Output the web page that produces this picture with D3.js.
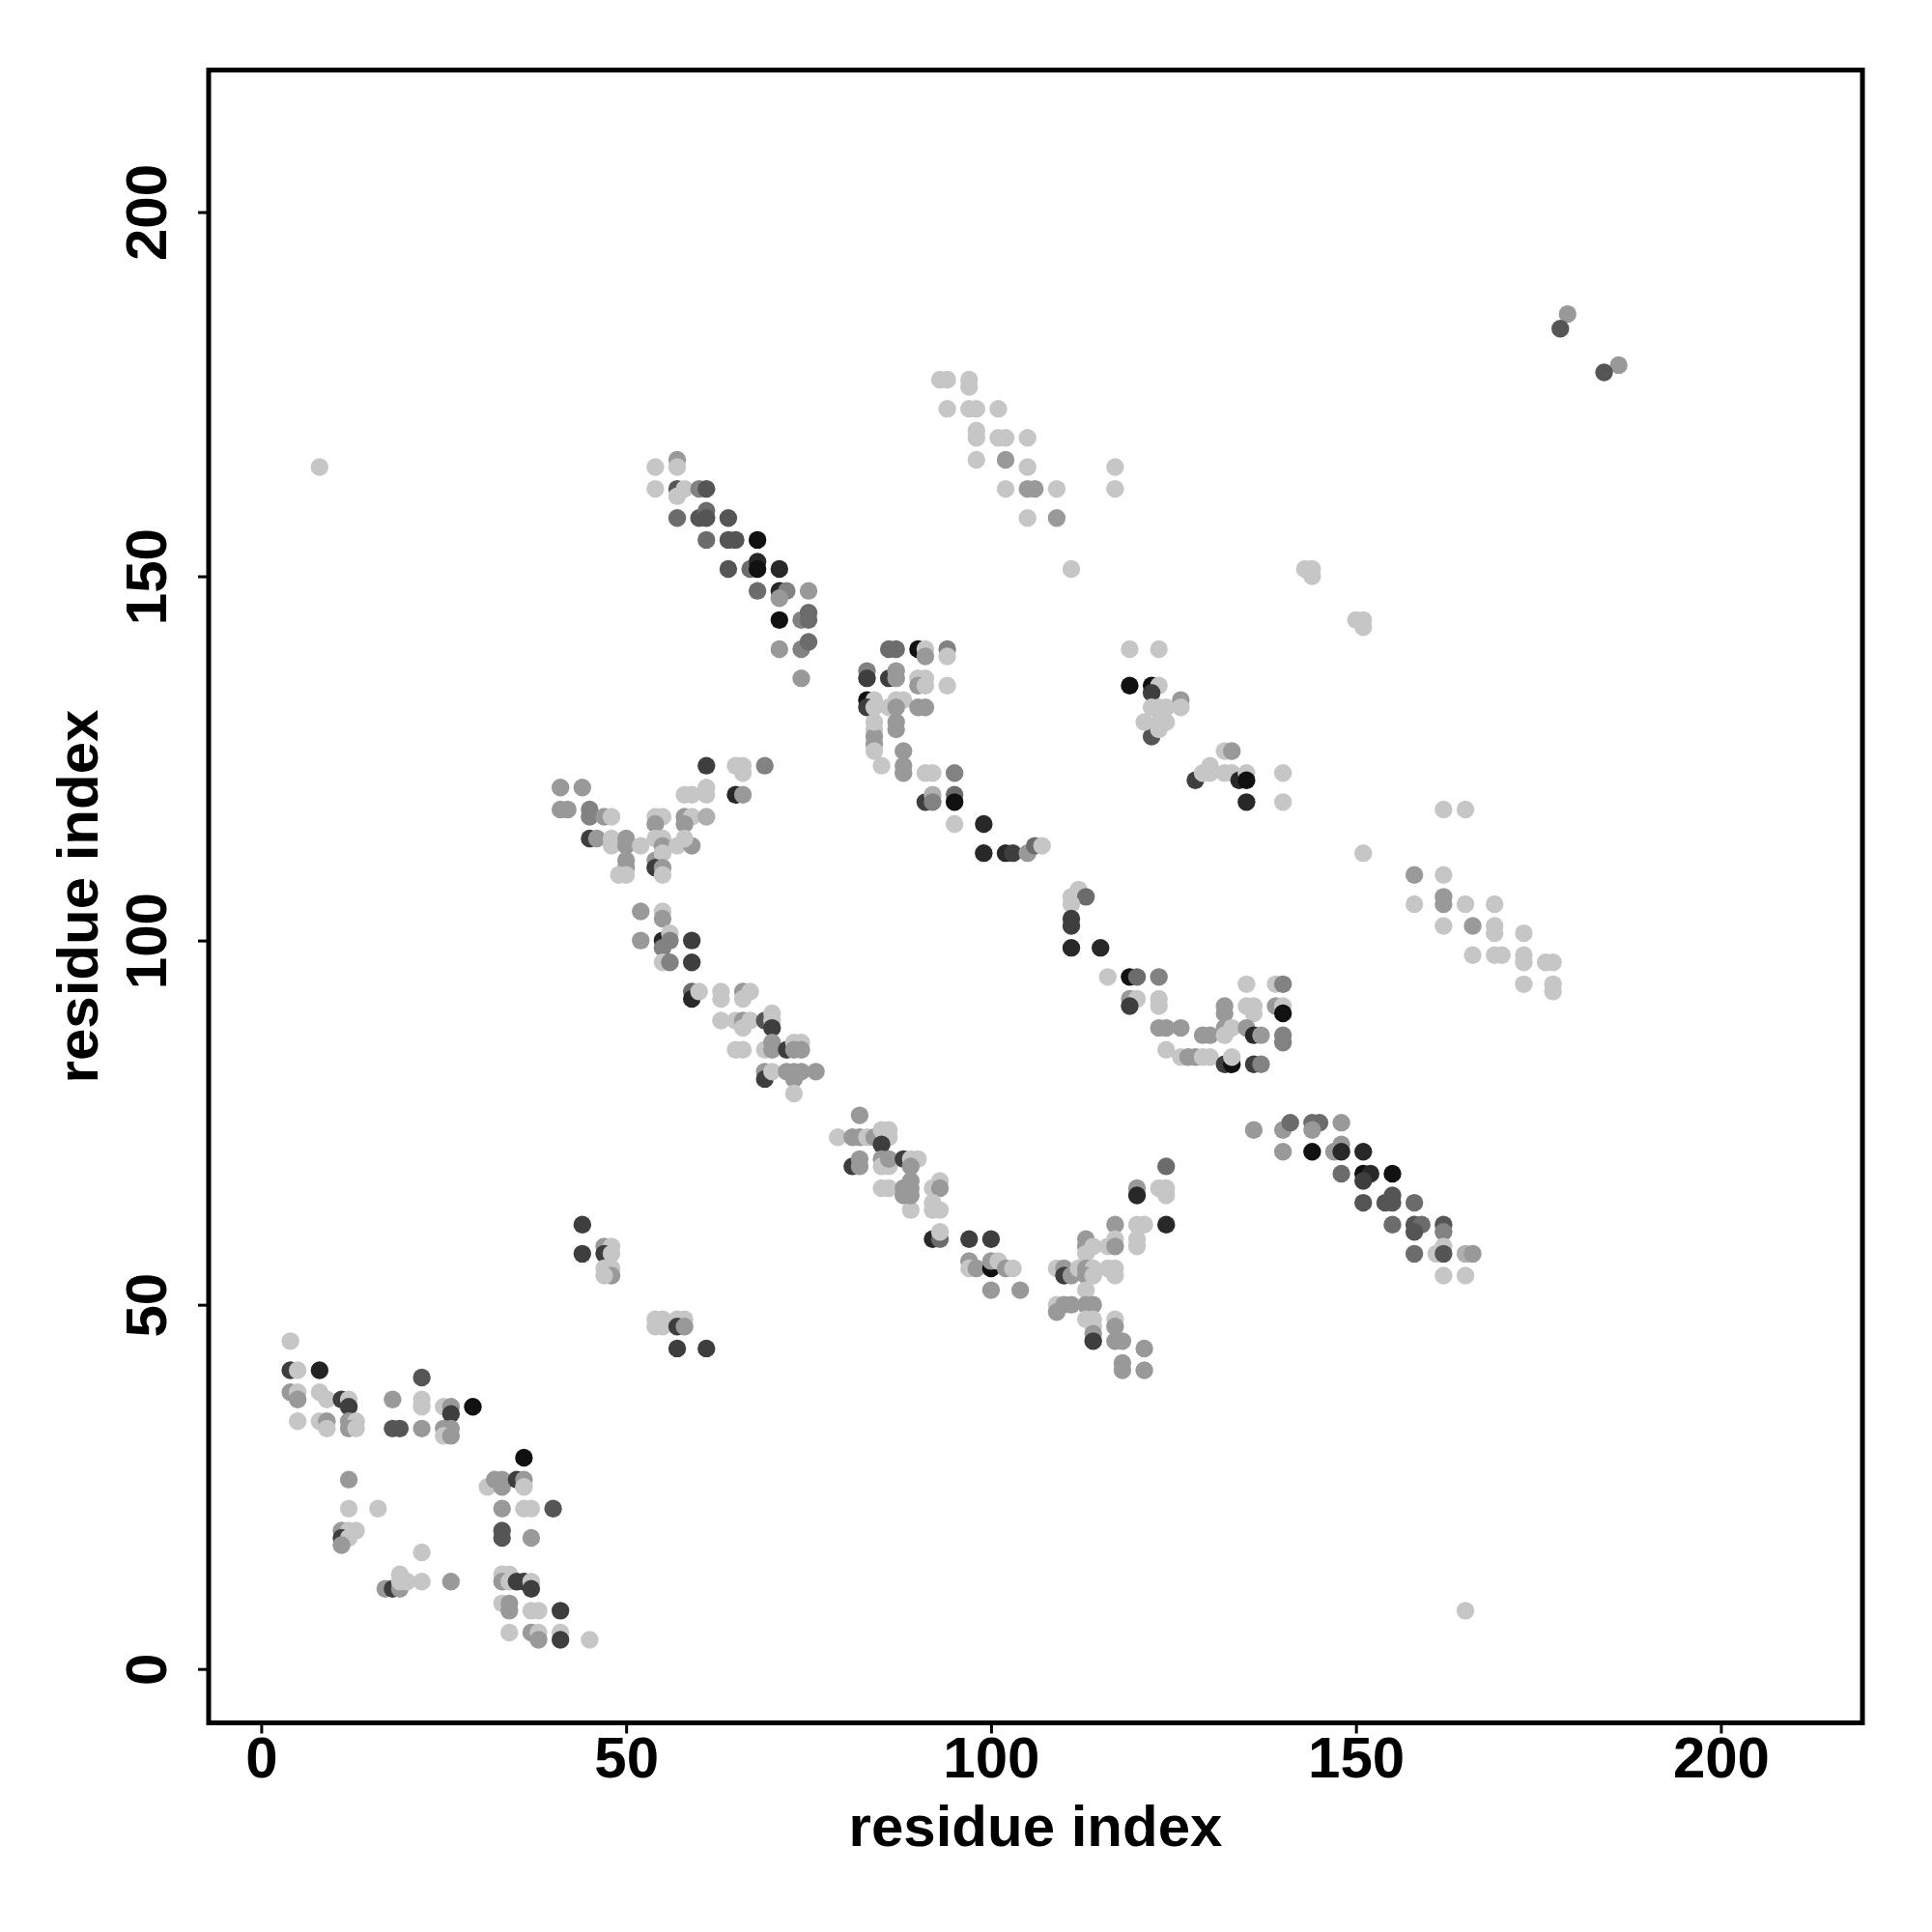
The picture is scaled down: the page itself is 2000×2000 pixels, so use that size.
<!DOCTYPE html>
<html>
<head>
<meta charset="utf-8">
<script src="https://cdn.jsdelivr.net/npm/d3@7"></script>
<style>
  html, body { margin: 0; padding: 0; background: #fff; }
  svg { display: block; }
  text { font-family: "Liberation Sans", Arial, Helvetica, sans-serif; font-weight: bold; }
</style>
</head>
<body>
<svg id="chart" width="2000" height="2000"></svg>
<script>
// ---- data: [residue i, residue j, confidence level 1 (light) .. 5 (black)] ----
const blockSW = [
  [44,61,4],[44,57,4],
  [47,58,2],[48,58,1],[47,57,4],[48,57,1],[47,55,1],[48,55,1],[48,54,2],[47,54,1],
  [54,48,1],[55,48,1],[54,47,1],[55,47,1],[57,48,1],[58,48,1],[57,47,4],[58,47,2],[57,44,4],[61,44,4],
  [4,45,1],
  [4,41,4],[5,41,1],[8,41,4.6],
  [4,38,2],[5,38,1],[5,37,2],[8,38,1],[9,37,1],[11,37,4],[12,37,1],[12,36,4],
  [5,34,1],[8,34,1],[9,34,2],[9,33,1],[12,34,2],[13,34,1],[12,33,2],[13,33,1],
  [18,37,2],[22,40,3.5],[22,37,1],[22,36,1],[25,36,1],[26,36,2],[26,35,4],[26,33,2],[25,33,2],[25,32,1],[26,32,2],
  [29,36,5],
  [18,33,3.5],[19,33,3.5],[22,33,2],
  [36,29,5],
  [31,25,1],[32,26,2],[33,25,2],[33,26,2],[35,26,4],[36,26,2],[36,25,1],
  [12,26,2],[12,22,1],[16,22,1],[33,22,2],[36,22,1],[37,22,1],[40,22,3.5],
  [11,19,2],[12,19,1],[13,19,1],[11,18,4],[12,18,1],[11,17,2],
  [33,19,3.5],[33,18,3.5],[37,18,2],
  [22,16,1],
  [17,11,2],[18,11,4],[19,11,2],[19,13,1],[19,12,1],[20,12,1],
  [22,12,1],[26,12,2],
  [33,13,1],[34,13,1],[33,12,2],[34,12,1],[35,12,4],[36,12,4],[37,12,1],[37,11,4],
  [33,9,1],[34,9,2],[34,8,2],[37,8,1],[38,8,1],[41,8,4],
  [34,5,1],[37,5,2],[38,5,1],[38,4,2],[41,5,1],[41,4,4],[45,4,1]
];
const blockS = [
  [89,63,1],[92,63,1],[93,63,1],
  [92,59,4.5],[93,59,3],[93,60,1],[97,59,4],[100,59,4],
  [97,56,2],[97,55,1],[98,55,2],[100,55,5],[100,56,2],[101,56,1],[102,55,2],[103,55,1],
  [100,52,2],[104,52,2],
  [117,61,2],[120,61,1],[121,61,1],[124,61,4.5],
  [113,59,2],[113,58,2],[114,58,1],[116,58,1],[117,59,1],[117,58,2],[120,59,1],[120,58,1],[113,57,1],
  [109,55,1],[110,55,2],[110,54,4],[111,54,2],[112,55,1],[113,55,2],[114,55,1],[116,55,1],[117,55,1],[117,54,1],[113,54,2],[114,54,1],
  [113,52,1],
  [109,50,1],[109,49,2],[110,50,2],[111,50,2],[113,50,2],[114,50,2],[113,48,1],[114,48,1],[114,47,1],[114,46,2],[114,45,4],
  [117,48,1],[117,47,2],[117,45,2],[118,45,2],
  [121,44,2],[118,42,2],[118,41,2],[121,41,2]
];
const blockSE = [
  [155,61,3],[158,61,3.5],[159,61,3],[158,60,3.5],[162,61,3.5],[162,60,2.5],
  [158,57,3],[161,57,1],[162,58,1],[162,57,3.5],[165,57,1.5],[166,57,2],
  [162,54,1],[165,54,1],
  [165,8,1]
];
const blockW = [
  [61,124,4],
  [41,121,2],[44,121,2],[41,118,2],[42,118,2],
  [45,118,2.5],[45,117,2.5],[47,117,2],[48,117,1],
  [45,114,4],[46,114,2],[48,114,1],[48,113,1],[50,114,2],[50,113,2],[50,111,2],[50,110,2],[49,109,1],[50,109,1],[52,113,1],
  [54,117,1],[55,117,1],[54,116,2],[55,114,1],[54,114,1],[55,113,2],[54,111,2],[55,112,1],[54,110,4],[55,110,2],[55,109,1],
  [58,120,1],[59,120,1],[61,121,1],[61,120,1],[58,117,2],[59,117,1],[61,117,1.5],[58,116,2],[57,113,1],[59,113,2],[58,114,1],
  [52,104,2],[55,104,1],[55,103,2],
  [52,100,2],[55,100,4.5],[56,101,1],[56,100,2.5],[59,100,4],[55,99,2.5],[55,97,1],[56,97,2.5],[59,97,4],
  [59,93,3],[59,92,4.5],[60,93,1],[63,93,1],[63,92,1],[63,89,1]
];
const blockC = [
  [65,124,1],[66,124,1],[66,123,1],[69,124,2.5],
  [65,120,4.5],[66,120,2],
  [84,129,1],[84,128,2],[84,127,2],[84,126,1],[85,124,1],[87,129,2],
  [88,126,2],[88,124,2],[88,123,2],
  [91,123,1],[92,123,1],[95,123,2.5],
  [91,119,4],[92,120,1.5],[92,119,2.5],[95,120,3],[95,119,5],
  [95,116,1],[99,116,4.5],
  [99,112,4.5],[102,112,4.5],[103,112,4],[105,112,2],[106,113,3],[107,113,1],
  [112,107,1],[111,106,1],[113,106,3],[111,105,1],[111,103,4],[111,102,4],
  [111,99,4.5],[115,99,4.5],
  [116,95,1],[119,95,5],[120,95,3],[123,95,2.5],
  [119,92,2],[120,92,1],[119,91,4],[123,92,1],[123,91,1],
  [123,88,2],[124,88,2],[126,88,2],[129,87,2],
  [124,85,1],[126,84,1],[127,84,2],[128,84,2],[129,84,1],
  [124,69,3],[120,66,2],[120,65,4.5],[123,66,1],[124,66,1],[124,65,1],
  [66,93,2],[67,93,1],[66,92,1],
  [65,89,1],[66,89,2],[67,89,1],[66,88,1],[69,89,3.5],[70,90,1],[70,89,1],[70,88,4],
  [65,85,1],[66,85,1],[69,85,1],[70,86,2],[70,85,2],[72,85,4],[73,86,1],[74,86,1],[73,85,2],[74,85,2],
  [69,82,2],[69,81,4],[70,82,1],[72,82,2],[73,82,2],[74,82,2],[76,82,2],[73,81,2],[73,79,1],
  [82,76,2],[79,73,1],[81,73,2],[82,73,2],[83,73,1],[84,73,2],[85,74,1],[86,74,1],[86,73,1],[85,72,4],
  [81,69,4],[82,70,2],[82,69,2],[85,70,2],[85,69,1],[86,69,1],[86,70,2],[88,70,4],[89,70,1],[90,70,1],[89,69,2],
  [85,66,1],[86,66,1],[88,66,2],[89,67,2],[89,66,2],[92,66,1],[93,67,1],[93,66,2],[88,65,2],[89,65,2],[92,64,1],
  [122,128,3.5],[123,129,1],[124,130,1],
  [128,122,4],[129,123,1]
];
const blockE = [
  [132,126,1],[133,126,2],[130,124,1],[130,123,1],[132,123,1],[133,123,1],[134,122,4.5],[135,123,1],[135,122,5],[135,119,4.5],[140,123,1],[140,119,1],
  [162,118,1],[165,118,1],
  [151,112,1],
  [158,109,2],[162,109,1],
  [158,105,1],[162,106,2],[162,105,2],[165,105,1],[169,105,1],
  [162,102,1],[166,102,2],[169,102,1],[169,101,1],[173,101,1],
  [166,98,1],[169,98,1],[170,98,1],[173,98,1],[173,97,1],[176,97,1],[177,97,1],
  [173,94,1],[177,94,1],[177,93,1],
  [135,94,1],[139,94,1],[140,94,2.5],
  [132,91,2],[132,90,2],[135,91,1],[136,91,1],[136,90,1],[139,91,2],[140,91,1],[140,90,5],
  [130,87,2],[132,88,2],[132,87,1],[133,88,1],[135,88,2],[136,87,4.5],[137,87,2],[140,87,2.5],[140,86,2.5],
  [130,84,1],[132,83,4],[133,83,5],[133,84,1],[136,83,4],[137,83,2.5],
  [136,74,2],[140,74,2],[141,75,3],[144,75,3],[145,75,3],[148,75,2],[144,74,2],[140,71,2],[144,71,5],[147,71,2],[148,72,2],[148,71,4.5],[151,71,4.5],
  [148,68,3],[151,68,5],[152,68,4.5],[155,68,5],[151,67,4],
  [151,64,3.5],[154,64,3.5],[155,65,3.5],[155,64,3.5],[158,64,3]
];
const blockNW = [
  [8,165,1],
  [54,165,1],[57,166,2],[57,165,1],[54,162,1],[57,162,3.5],[58,162,1],[57,161,1],[60,162,2.5],[61,162,3.5],[57,158,3],[60,158,3.5],[61,159,3],[61,158,3.5],[61,155,3]
];
const blockN = [
  [93,177,1],[94,177,1],[97,177,1],[97,176,1],
  [94,173,1],[97,173,1],[98,173,1],[101,173,1],
  [98,170,1],[98,169,1],[101,169,1],[102,169,1],[105,169,1],
  [98,166,1],[102,166,2],[105,165,1],
  [102,162,1],[105,162,2],[106,162,2],[109,162,1],
  [105,158,1],[109,158,2],
  [117,165,1],[117,162,1],
  [111,151,1],
  [64,158,3.5],[64,155,3.5],[65,155,3.5],[68,155,5],[64,151,3.5],[67,151,3],[68,152,4.5],[68,151,5],[71,151,4.5],[68,148,3],[71,148,4.5],[72,148,2.5],[71,147,2],[75,148,2],[71,144,5],[74,144,2.5],[75,145,3],[75,144,3],[71,140,2],[74,140,2.5],[75,141,3],[74,136,2],
  [86,140,3],[87,140,3],[90,140,5],[91,140,1],[91,139,2],[94,140,2.5],[94,139,1],
  [83,137,2.5],[83,136,4],[86,136,4],[87,137,2],[87,136,2],[90,136,1],[91,136,1],[90,135,2],[91,135,1],[94,135,1],
  [83,133,5],[84,133,1],[83,132,4],[84,132,1],[86,132,1],[87,133,1],[88,133,1],[87,132,2],[90,132,2],[91,132,2],[84,130,1],[87,130,2],
  [119,140,1],[123,140,1],
  [119,135,5],[122,135,5],[123,135,1],[122,134,4],[126,133,2],[122,132,1],[123,132,1],[124,132,1],[126,132,1],[121,130,1],[123,130,1]
];
const blockNE = [
  [179,186,2],[178,184,3.5],[186,179,2],[184,178,3.5],
  [143,151,1],[144,151,1],[144,150,1],
  [150,144,1],[151,144,1],[151,143,1]
];
const tickValues = [0, 50, 100, 150, 200];
const xLabel = "residue index";
const yLabel = "residue index";

// ---- drawing ----
const svg = d3.select("#chart");
const box = { left: 216, right: 1928, top: 72.5, bottom: 1783.5 };

const x = d3.scaleLinear().domain([-7.2, 219.4]).range([box.left, box.right]);
const y = d3.scaleLinear().domain([-7.4, 219.5]).range([box.bottom, box.top]);
const color = d3.scaleLinear().domain([1, 5]).range(["#c6c6c6", "#111111"]);

const contacts = [].concat(blockSW, blockS, blockSE, blockW, blockC, blockE, blockNW, blockN, blockNE);

svg.append("g").selectAll("circle")
  .data(contacts)
  .join("circle")
  .attr("cx", d => x(d[0]))
  .attr("cy", d => y(d[1]))
  .attr("r", 9.2)
  .attr("fill", d => color(d[2]));

// frame
svg.append("rect")
  .attr("x", box.left).attr("y", box.top)
  .attr("width", box.right - box.left).attr("height", box.bottom - box.top)
  .attr("fill", "none").attr("stroke", "#000").attr("stroke-width", 5);

// x axis
const gx = svg.append("g").attr("transform", `translate(0,${box.bottom})`)
  .call(d3.axisBottom(x).tickValues(tickValues).tickSize(11).tickFormat(d3.format("d")));
gx.select(".domain").remove();
gx.selectAll(".tick line").attr("stroke", "#000").attr("stroke-width", 3);
gx.selectAll(".tick text")
  .attr("y", 56.5).attr("dy", null)
  .attr("fill", "#000")
  .style("font-size", "60px").style("font-weight", "bold")
  .style("font-family", '"Liberation Sans", Arial, sans-serif');

// y axis
const gy = svg.append("g").attr("transform", `translate(${box.left},0)`)
  .call(d3.axisLeft(y).tickValues(tickValues).tickSize(11).tickFormat(d3.format("d")));
gy.select(".domain").remove();
gy.selectAll(".tick line").attr("stroke", "#000").attr("stroke-width", 3);
gy.selectAll(".tick text")
  .attr("x", null).attr("y", null).attr("dy", null)
  .attr("transform", "translate(-44,0) rotate(-90)")
  .attr("text-anchor", "middle")
  .attr("fill", "#000")
  .style("font-size", "60px").style("font-weight", "bold")
  .style("font-family", '"Liberation Sans", Arial, sans-serif');

// axis titles
svg.append("text")
  .attr("x", (box.left + box.right) / 2).attr("y", 1911)
  .attr("text-anchor", "middle")
  .style("font-size", "60px")
  .text(xLabel);

svg.append("text")
  .attr("transform", `translate(101,${(box.top + box.bottom) / 2}) rotate(-90)`)
  .attr("text-anchor", "middle")
  .style("font-size", "60px")
  .text(yLabel);
</script>
</body>
</html>
